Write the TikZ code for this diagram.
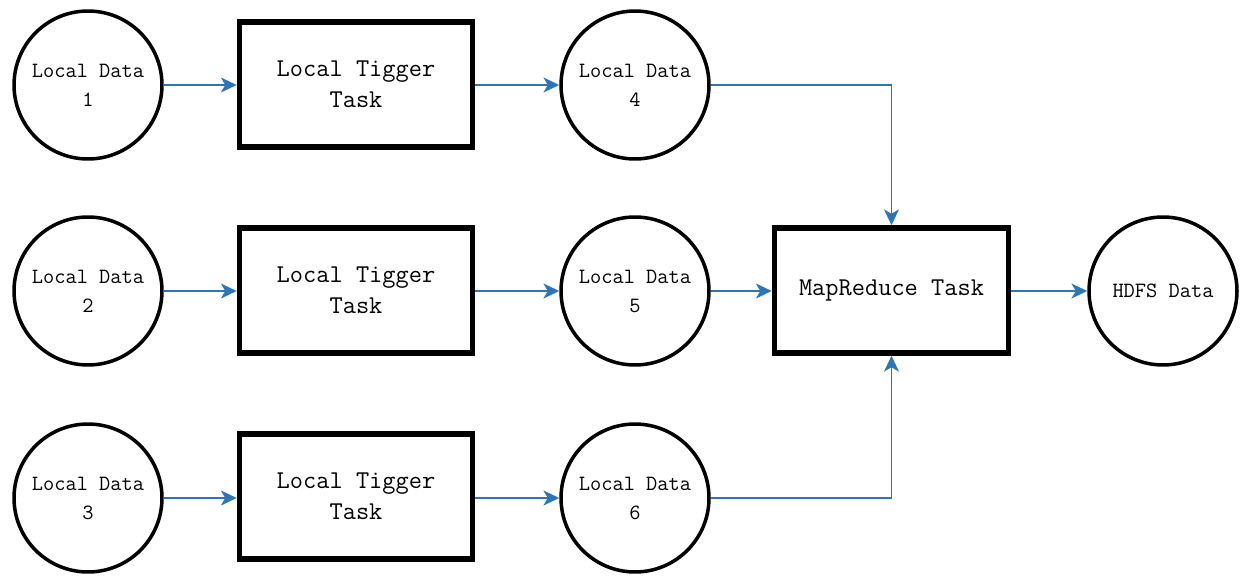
\documentclass[tikz,border=0pt]{standalone}
\usetikzlibrary{arrows.meta}
\definecolor{arrblue}{RGB}{46,117,182}
\begin{document}
\begin{tikzpicture}[x=0.02cm,y=-0.02cm,
  datanode/.style={circle,draw=black,line width=2pt,minimum size=2.96cm,inner sep=0pt,align=center,font=\ttfamily\fontsize{12.4}{16.5}\selectfont},
  taskbox/.style={rectangle,draw=black,line width=3.2pt,minimum width=4.66cm,minimum height=2.5cm,inner sep=0pt,align=center,font=\ttfamily\fontsize{14.6}{17.6}\selectfont},
  flow/.style={draw=arrblue,line width=1.1pt,-{Stealth[length=9pt,width=8.5pt,inset=2.5pt]}}]
\useasboundingbox (0,0) rectangle (1250,584);
\node[datanode] (d1) at (88,85) {Local Data\\1};
\node[datanode] (d2) at (88,291) {Local Data\\2};
\node[datanode] (d3) at (88,498) {Local Data\\3};
\node[taskbox] (t1) at (356,84.5) {Local Tigger\\Task};
\node[taskbox] (t2) at (356,290.5) {Local Tigger\\Task};
\node[taskbox] (t3) at (356,496.5) {Local Tigger\\Task};
\node[datanode] (d4) at (635,85) {Local Data\\4};
\node[datanode] (d5) at (635,291) {Local Data\\5};
\node[datanode] (d6) at (635,498) {Local Data\\6};
\node[taskbox,minimum width=4.68cm] (mr) at (891.5,290.5) {MapReduce Task};
\node[datanode] (hd) at (1163,291) {HDFS Data};
\draw[flow] (d1.east) -- (d1.east -| t1.west);
\draw[flow] (d2.east) -- (d2.east -| t2.west);
\draw[flow] (d3.east) -- (d3.east -| t3.west);
\draw[flow] (t1.east |- d4.west) -- (d4.west);
\draw[flow] (t2.east |- d5.west) -- (d5.west);
\draw[flow] (t3.east |- d6.west) -- (d6.west);
\draw[flow] (d4.east) -| (mr.north);
\draw[flow] (d6.east) -| (mr.south);
\draw[flow] (d5.east) -- (d5.east -| mr.west);
\draw[flow] (mr.east |- hd.west) -- (hd.west);
\end{tikzpicture}
\end{document}
